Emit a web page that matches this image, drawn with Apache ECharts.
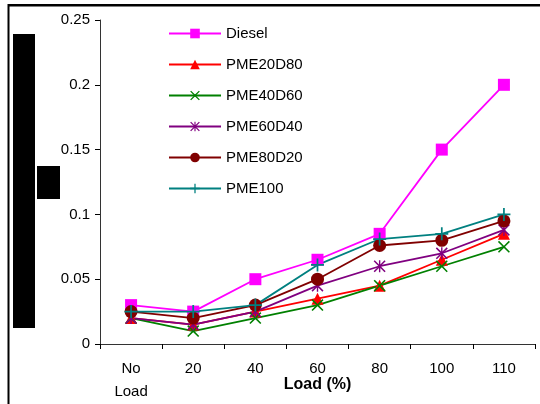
<!DOCTYPE html>
<html lang="en">
<head>
    <meta charset="UTF-8" />
    <title>Load chart</title>
    <script src="https://cdn.jsdelivr.net/npm/echarts@6/dist/echarts.min.js"></script>
    <style>
        html, body { margin: 0; padding: 0; background: #fff; }
    </style>
</head>
<body>
    <div id="main" style="width: 540px; height: 404px"></div>
    <script>
        var categories = ["No\nLoad", "20", "40", "60", "80", "100", "110"];
        var diesel = [0.03, 0.025, 0.05, 0.065, 0.085, 0.15, 0.2];
        var pme20d80 = [0.02, 0.015, 0.025, 0.035, 0.045, 0.065, 0.085];
        var pme40d60 = [0.02, 0.01, 0.02, 0.03, 0.045, 0.06, 0.075];
        var pme60d40 = [0.02, 0.015, 0.025, 0.045, 0.06, 0.07, 0.088];
        var pme80d20 = [0.025, 0.02, 0.03, 0.05, 0.076, 0.08, 0.095];
        var pme100 = [0.025, 0.025, 0.03, 0.061, 0.081, 0.085, 0.1];

        // marker shapes like the old spreadsheet ones
        var plusPath = "path://M5.2,0H6.8V5.2H12V6.8H6.8V12H5.2V6.8H0V5.2H5.2Z";
        var crossPath = "path://M0,1.1L1.1,0L6,4.9L10.9,0L12,1.1L7.1,6L12,10.9L10.9,12L6,7.1L1.1,12L0,10.9L4.9,6Z";
        var starPath = "path://M5.3,0H6.7V12H5.3Z M0,1.1L1.1,0L12,10.9L10.9,12Z M10.9,0L12,1.1L1.1,12L0,10.9Z";

        var font = "Liberation Sans, Arial, sans-serif";

        function makeSeries(name, data, color, symbol, size) {
            return {
                name: name,
                type: "line",
                data: data,
                symbol: symbol,
                symbolSize: size,
                showAllSymbol: true,
                z: 2,
                lineStyle: { color: color, width: 1.8 },
                itemStyle: { color: color, borderWidth: 0 },
            };
        }

        var chart = echarts.init(document.getElementById("main"));
        var option = {
            animation: false,
            backgroundColor: "#fff",
            grid: { left: 100, right: 5, top: 20, bottom: 60, outerBoundsMode: "none", containLabel: false },
            legend: {
                orient: "vertical",
                left: 163,
                top: 21,
                itemWidth: 52,
                itemHeight: 12,
                itemGap: 16,
                textStyle: { fontFamily: font, fontSize: 15, color: "#000" },
                data: ["Diesel", "PME20D80", "PME40D60", "PME60D40", "PME80D20", "PME100"],
            },
            xAxis: {
                type: "category",
                data: categories,
                boundaryGap: true,
                name: "Load (%)",
                nameLocation: "middle",
                nameGap: 33,
                nameMoveOverlap: false,
                nameTextStyle: { fontFamily: font, fontSize: 16, fontWeight: "bold", color: "#000" },
                axisLine: { lineStyle: { color: "#333", width: 1 } },
                axisTick: { show: true, alignWithLabel: false, interval: 0, length: 5, lineStyle: { color: "#000", width: 1 } },
                axisLabel: { fontFamily: font, fontSize: 15, color: "#000", margin: 13, lineHeight: 23, interval: 0 },
                splitLine: { show: false },
            },
            yAxis: {
                type: "value",
                min: 0,
                max: 0.25,
                interval: 0.05,
                axisLine: { show: true, lineStyle: { color: "#333", width: 1 } },
                axisTick: { show: true, length: 5, lineStyle: { color: "#000", width: 1 } },
                axisLabel: { fontFamily: font, fontSize: 15, color: "#000", margin: 10 },
                splitLine: { show: false },
            },
            graphic: [
                { type: "rect", shape: { x: 8, y: 4, width: 532, height: 2.5 }, style: { fill: "#000" } },
                { type: "rect", shape: { x: 7.5, y: 4, width: 2, height: 400 }, style: { fill: "#000" } },
                { type: "rect", shape: { x: 13, y: 34, width: 22, height: 294 }, style: { fill: "#000" } },
                { type: "rect", shape: { x: 37, y: 166, width: 23, height: 33 }, style: { fill: "#000" } },
            ],
            series: [
                makeSeries("Diesel", diesel, "#FF00FF", "rect", 12),
                makeSeries("PME20D80", pme20d80, "#FF0000", "triangle", 12),
                makeSeries("PME40D60", pme40d60, "#008000", crossPath, 12),
                makeSeries("PME60D40", pme60d40, "#800080", starPath, 12),
                makeSeries("PME80D20", pme80d20, "#800000", "circle", 13),
                makeSeries("PME100", pme100, "#008080", plusPath, 13),
            ],
        };
        chart.setOption(option);
    </script>
</body>
</html>
